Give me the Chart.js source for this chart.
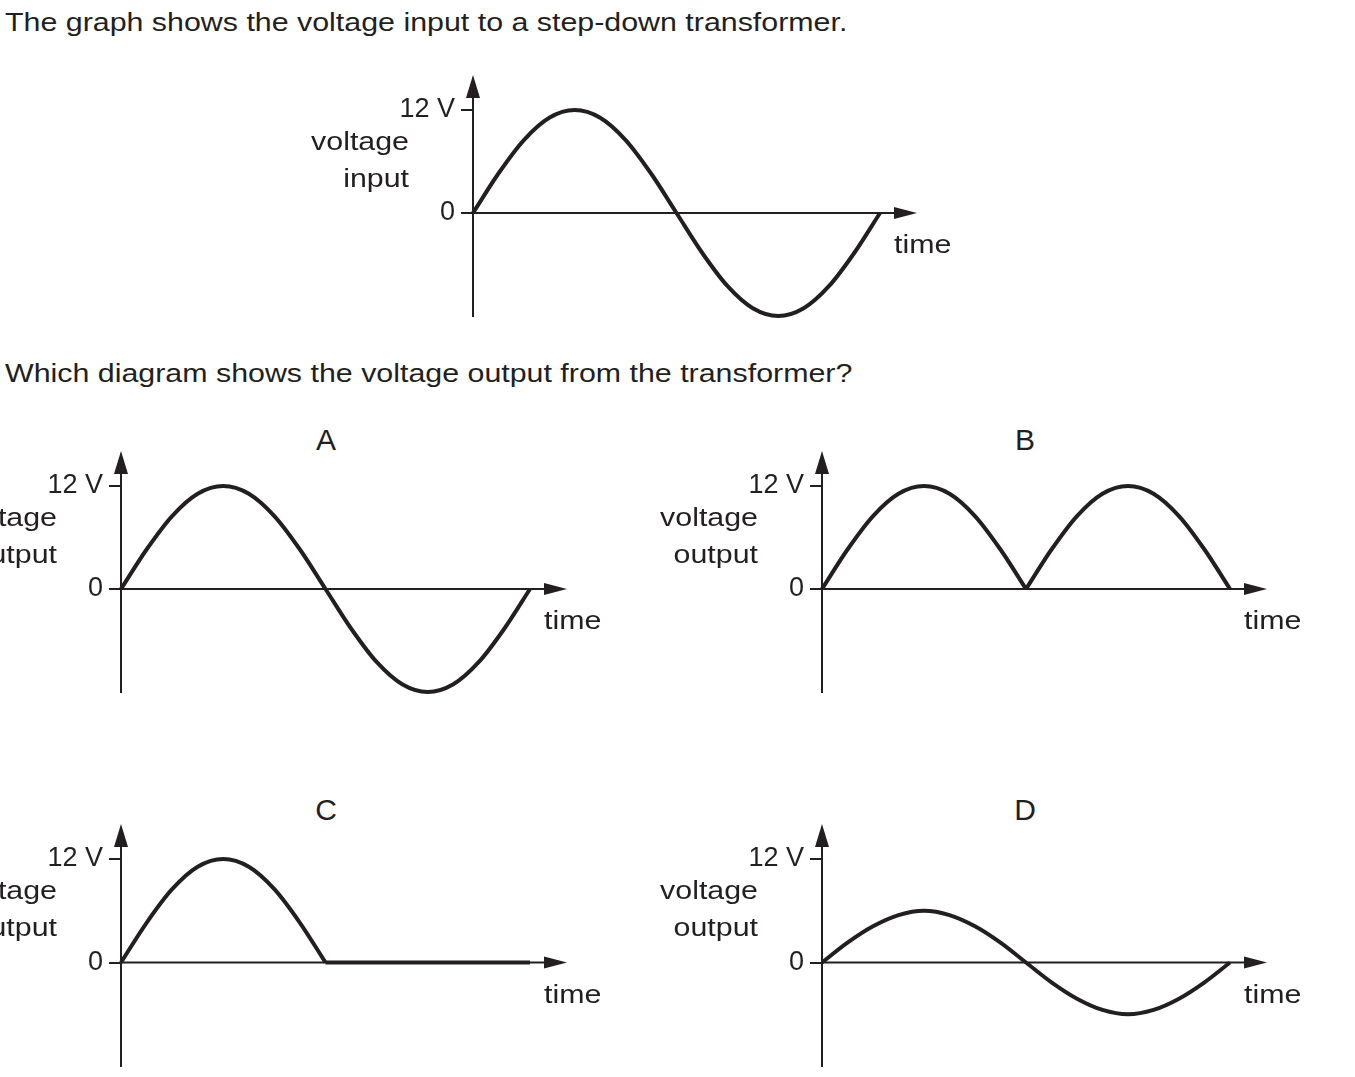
<!DOCTYPE html>
<html>
<head>
<meta charset="utf-8">
<script src="https://cdn.jsdelivr.net/npm/chart.js@4.4.1/dist/chart.umd.min.js"></script>
<style>
  body { margin: 0; background: #fff; width: 1355px; height: 1077px; overflow: hidden; position: relative;
         font-family: "Liberation Sans", Arial, sans-serif; color: #231f20; }
  .txt { position: absolute; font-size: 26px; line-height: 26px; white-space: nowrap;
         transform: scaleX(1.168); transform-origin: 0 0; }
  .letter { position: absolute; width: 40px; text-align: center; font-size: 30px; line-height: 30px; }
  canvas { position: absolute; }
</style>
</head>
<body>
<div class="txt" style="left:5px;top:9px">The graph shows the voltage input to a step-down transformer.</div>
<div class="txt" style="left:5px;top:360px">Which diagram shows the voltage output from the transformer?</div>
<div class="letter" style="left:306px;top:425px">A</div>
<div class="letter" style="left:1005px;top:425px">B</div>
<div class="letter" style="left:306px;top:795px">C</div>
<div class="letter" style="left:1005px;top:795px">D</div>

<canvas id="chart-input"></canvas>
<canvas id="chart-a"></canvas>
<canvas id="chart-b"></canvas>
<canvas id="chart-c"></canvas>
<canvas id="chart-d"></canvas>

<script>
// time axis: one full period of the input = 8 units
const timeFull = [0, 0.5, 1, 1.5, 2, 2.5, 3, 3.5, 4, 4.5, 5, 5.5, 6, 6.5, 7, 7.5, 8];
const timeFirstHalf = [0, 0.5, 1, 1.5, 2, 2.5, 3, 3.5, 4];
const timeSecondHalf = [4, 4.5, 5, 5.5, 6, 6.5, 7, 7.5, 8];

// voltage values (V)
const inputVolts = [0, 4.6, 8.5, 11.1, 12, 11.1, 8.5, 4.6, 0, -4.6, -8.5, -11.1, -12, -11.1, -8.5, -4.6, 0];
const outputA = [0, 4.6, 8.5, 11.1, 12, 11.1, 8.5, 4.6, 0, -4.6, -8.5, -11.1, -12, -11.1, -8.5, -4.6, 0];
const outputB1 = [0, 4.6, 8.5, 11.1, 12, 11.1, 8.5, 4.6, 0];
const outputB2 = [0, 4.6, 8.5, 11.1, 12, 11.1, 8.5, 4.6, 0];
const outputC1 = [0, 4.6, 8.5, 11.1, 12, 11.1, 8.5, 4.6, 0];
const outputCFlatTime = [4, 8];
const outputCFlat = [0, 0];
const outputD = [0, 2.3, 4.2, 5.5, 6, 5.5, 4.2, 2.3, 0, -2.3, -4.2, -5.5, -6, -5.5, -4.2, -2.3, 0];

// axis text
const yTickValues = [0, 12];
const yTickLabels = ['0', '12 V'];
const inputLabel = ['voltage', 'input'];
const outputLabel = ['voltage', 'output'];
const timeLabel = 'time';

const INK = '#231f20';
const FONT = '26px "Liberation Sans", Arial, sans-serif';
const STRETCH = 1.168; // the printed lettering is a little wider than Arial

function pts(xs, ys) {
    return xs.map((x, i) => ({ x: x, y: ys[i] }));
}

function wideText(ctx, text, x, y, align) {
    ctx.save();
    ctx.translate(x, y);
    ctx.scale(STRETCH, 1);
    ctx.textAlign = align;
    ctx.fillText(text, 0, 0);
    ctx.restore();
}

// axes extensions, arrows and side labels
const axesPlugin = {
    id: 'axesArrows',
    beforeDatasetsDraw(chart) {
        const ctx = chart.ctx;
        const xs = chart.scales.x;
        const ys = chart.scales.y;
        const x0 = xs.getPixelForValue(0);
        const xEnd = xs.getPixelForValue(8);
        const y0 = ys.getPixelForValue(0);
        const yTop = ys.getPixelForValue(12);
        const o = chart.options.plugins.axesArrows;
        ctx.save();
        ctx.strokeStyle = INK;
        ctx.fillStyle = INK;
        ctx.lineWidth = 2;
        // x axis along zero
        ctx.beginPath();
        ctx.moveTo(x0, y0);
        ctx.lineTo(xEnd + 20, y0);
        ctx.stroke();
        ctx.beginPath();
        ctx.moveTo(xEnd + 37, y0);
        ctx.lineTo(xEnd + 14, y0 - 6);
        ctx.lineTo(xEnd + 14, y0 + 6);
        ctx.closePath();
        ctx.fill();
        // y axis up to arrow
        ctx.beginPath();
        ctx.moveTo(x0, yTop);
        ctx.lineTo(x0, yTop - 14);
        ctx.stroke();
        ctx.beginPath();
        ctx.moveTo(x0, yTop - 35);
        ctx.lineTo(x0 - 7, yTop - 12);
        ctx.lineTo(x0 + 7, yTop - 12);
        ctx.closePath();
        ctx.fill();
        // labels
        ctx.font = FONT;
        ctx.textBaseline = 'alphabetic';
        wideText(ctx, o.label[0], x0 - 64, yTop + 40, 'right');
        wideText(ctx, o.label[1], x0 - 64, yTop + 77, 'right');
        wideText(ctx, timeLabel, xEnd + 14, y0 + 40, 'left');
        ctx.restore();
    }
};

function makeChart(id, box, datasets, label) {
    const canvas = document.getElementById(id);
    const w = 200 + box.plotW + 110;
    const h = 50 + box.plotH + 30;
    canvas.width = w;
    canvas.height = h;
    canvas.style.left = (box.axisX - 200) + 'px';
    canvas.style.top = (box.yTop - 50) + 'px';
    return new Chart(canvas, {
        type: 'line',
        data: {
            datasets: datasets.map(d => ({
                data: d,
                borderColor: INK,
                borderWidth: 4,
                pointRadius: 0,
                fill: false,
                clip: false,
                cubicInterpolationMode: 'monotone'
            }))
        },
        options: {
            responsive: false,
            animation: false,
            layout: { padding: { left: 0, top: 50, right: 110, bottom: 30 } },
            plugins: {
                legend: { display: false },
                tooltip: { enabled: false },
                axesArrows: { label: label }
            },
            scales: {
                x: { type: 'linear', min: 0, max: 8, display: false },
                y: {
                    type: 'linear',
                    min: -12,
                    max: 12,
                    afterFit(scale) { scale.width = 200; },
                    afterBuildTicks(scale) { scale.ticks = yTickValues.map(v => ({ value: v })); },
                    grid: { drawOnChartArea: false, drawTicks: true, tickLength: 12, color: INK, lineWidth: 2 },
                    border: { display: true, color: INK, width: 2 },
                    ticks: {
                        color: INK,
                        padding: 6,
                        font: { family: '"Liberation Sans", Arial, sans-serif', size: 27 },
                        callback: (v) => yTickLabels[yTickValues.indexOf(v)]
                    }
                }
            }
        },
        plugins: [axesPlugin]
    });
}

makeChart('chart-input', { axisX: 473, yTop: 110, plotW: 407, plotH: 206 },
    [pts(timeFull, inputVolts)], inputLabel);
makeChart('chart-a', { axisX: 121, yTop: 486, plotW: 409, plotH: 206 },
    [pts(timeFull, outputA)], outputLabel);
makeChart('chart-b', { axisX: 822, yTop: 486, plotW: 408, plotH: 206 },
    [pts(timeFirstHalf, outputB1), pts(timeSecondHalf, outputB2)], outputLabel);
makeChart('chart-c', { axisX: 121, yTop: 859, plotW: 409, plotH: 207 },
    [pts(timeFirstHalf, outputC1), pts(outputCFlatTime, outputCFlat)], outputLabel);
makeChart('chart-d', { axisX: 822, yTop: 859, plotW: 408, plotH: 207 },
    [pts(timeFull, outputD)], outputLabel);
</script>
</body>
</html>
